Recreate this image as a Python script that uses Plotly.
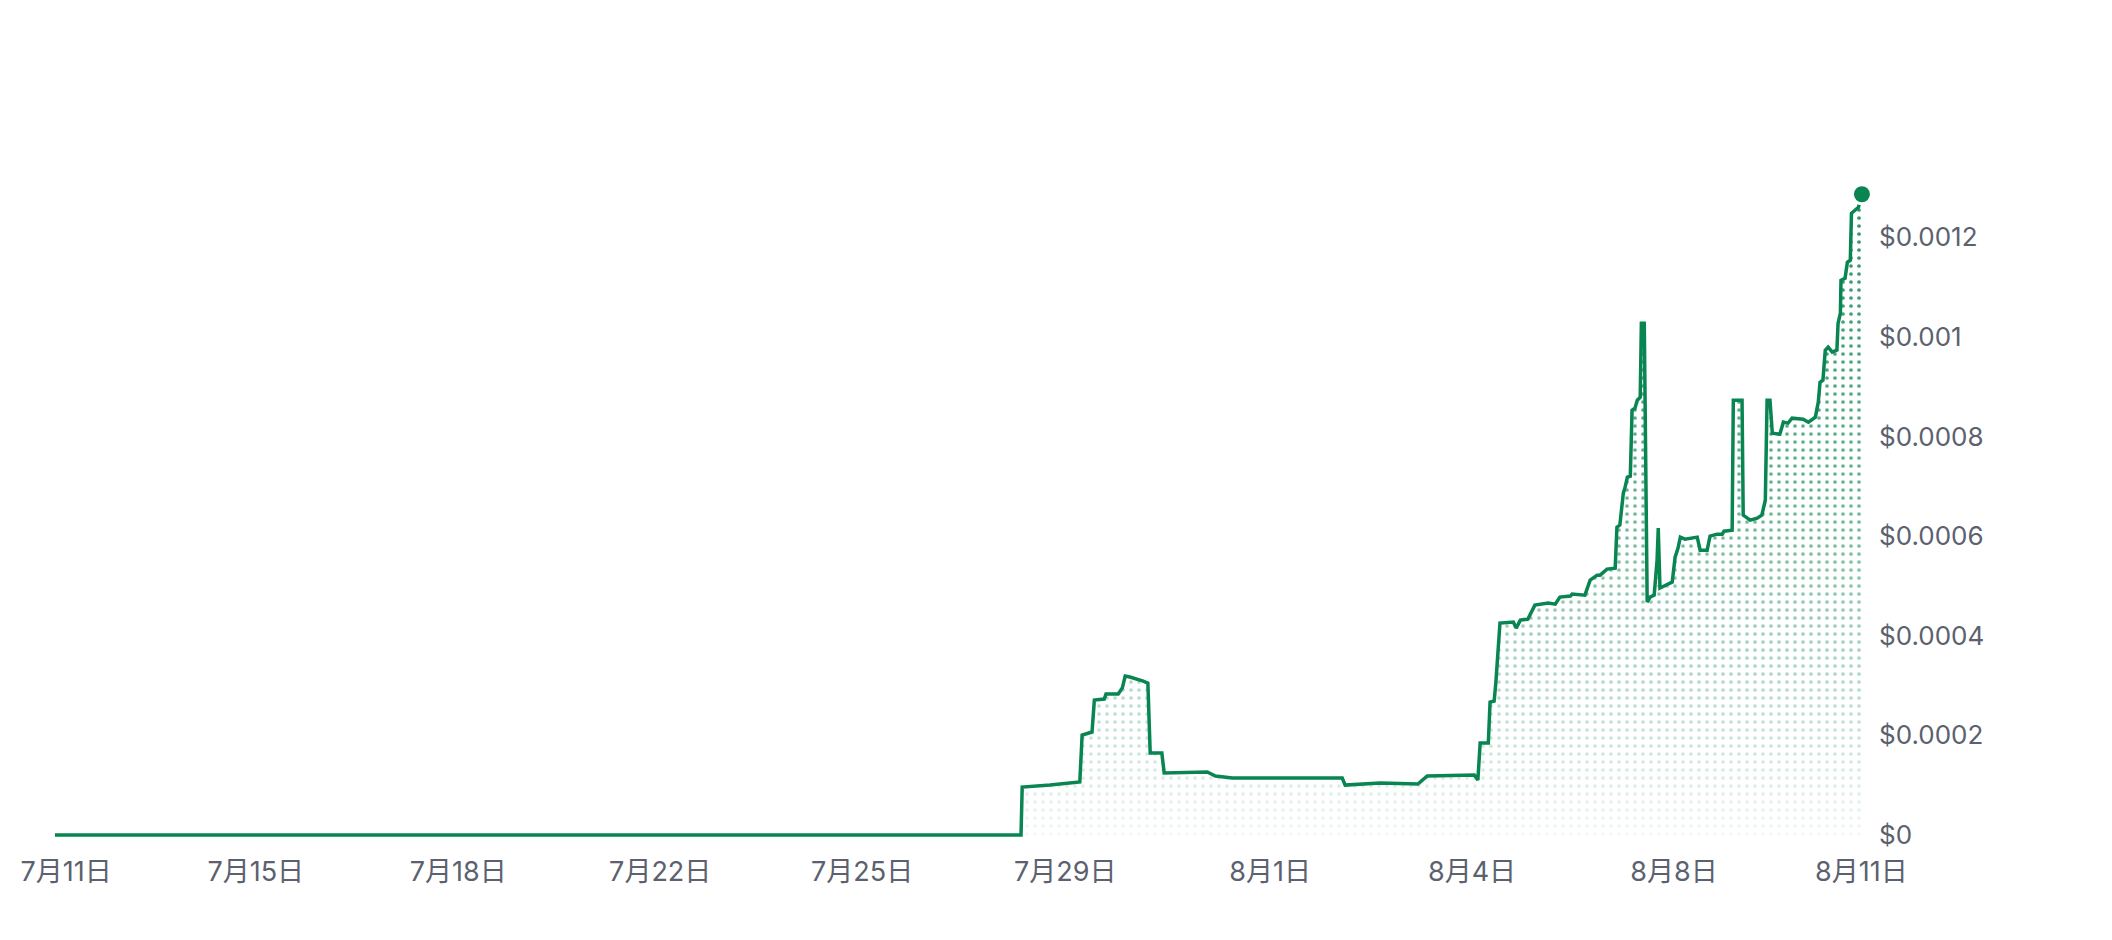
import plotly.graph_objects as go

# days since 7/11 00:00 and price in USD
days = [
    0, 16.60, 16.62, 17.10, 17.61, 17.65, 17.82, 17.86, 18.03, 18.06,
    18.27, 18.34, 18.39, 18.47, 18.70, 18.78, 18.82, 19.02, 19.06, 19.80,
    19.94, 20.23, 22.12, 22.17, 22.77, 23.42, 23.58, 24.39, 24.45, 24.49,
    24.63, 24.66, 24.73, 24.76, 24.83, 25.06, 25.11, 25.18, 25.31, 25.43,
    25.66, 25.78, 25.86, 26.04, 26.07, 26.29, 26.38, 26.50, 26.55, 26.67,
    26.81, 26.84, 26.89, 26.95, 26.98, 27.02, 27.07, 27.10, 27.15, 27.19,
    27.24, 27.26, 27.31, 27.36, 27.41, 27.48, 27.53, 27.55, 27.58, 27.67,
    27.79, 27.84, 27.89, 27.93, 28.01, 28.22, 28.27, 28.39, 28.44, 28.56,
    28.65, 28.68, 28.82, 28.84, 28.99, 29.01, 29.13, 29.25, 29.33, 29.39,
    29.42, 29.47, 29.51, 29.64, 29.70, 29.78, 29.85, 30.04, 30.13, 30.25,
    30.30, 30.33, 30.38, 30.42, 30.47, 30.54, 30.62, 30.64, 30.68, 30.69,
    30.76, 30.80, 30.85, 30.87, 30.93, 30.99, 31.05,
]

price_e4 = [
    0, 0, 0.963, 1.003, 1.064, 2.007, 2.067, 2.709, 2.729, 2.829,
    2.829, 2.950, 3.191, 3.171, 3.090, 3.050, 1.646, 1.646, 1.244, 1.264,
    1.184, 1.144, 1.144, 1.003, 1.043, 1.023, 1.184, 1.204, 1.104, 1.846,
    1.846, 2.669, 2.689, 3.070, 4.254, 4.274, 4.154, 4.314, 4.334, 4.615,
    4.655, 4.635, 4.776, 4.796, 4.836, 4.816, 5.117, 5.217, 5.217, 5.338,
    5.358, 6.181, 6.221, 6.863, 6.983, 7.184, 7.204, 8.529, 8.569, 8.729,
    8.789, 10.274, 10.274, 4.676, 4.776, 4.816, 5.519, 6.161, 4.957, 5.017,
    5.077, 5.579, 5.759, 5.980, 5.940, 5.980, 5.719, 5.719, 6.000, 6.040,
    6.040, 6.100, 6.120, 8.729, 8.729, 6.421, 6.321, 6.361, 6.421, 6.722,
    8.729, 8.729, 8.067, 8.047, 8.288, 8.268, 8.368, 8.348, 8.288, 8.388,
    8.689, 9.090, 9.131, 9.733, 9.793, 9.693, 9.733, 10.274, 10.475, 11.137,
    11.177, 11.498, 11.539, 12.482, 12.542, 12.602, 12.863,
]
prices = [p * 1e-4 for p in price_e4]

tick_days = [0.19, 3.45, 6.93, 10.40, 13.87, 17.36, 20.88, 24.35, 27.82, 31.04]
tick_text = ["7月11日", "7月15日", "7月18日", "7月22日", "7月25日",
             "7月29日", "8月1日", "8月4日", "8月8日", "8月11日"]

y_ticks = [0, 0.0002, 0.0004, 0.0006, 0.0008, 0.001, 0.0012]
y_text = ["$0", "$0.0002", "$0.0004", "$0.0006", "$0.0008", "$0.001", "$0.0012"]

GREEN = "#098551"
GREY = "#5b616e"
FONT = "Inter, Noto Sans CJK JP, sans-serif"

fig = go.Figure()

# dotted fill under the line
fig.add_trace(go.Scatter(
    x=days, y=prices, mode="none", fill="tozeroy",
    fillcolor="rgba(0,0,0,0)",
    fillpattern=dict(shape=".", size=8, solidity=0.17, fgcolor=GREEN,
                     fgopacity=0.85, bgcolor="rgba(0,0,0,0)", fillmode="replace"),
    hoverinfo="skip", showlegend=False,
))

# white fade over the dots toward the bottom
fig.add_trace(go.Scatter(
    x=days, y=prices, mode="none", fill="tozeroy",
    fillgradient=dict(type="vertical", start=0, stop=0.0012,
                      colorscale=[[0, "rgba(255,255,255,0.93)"],
                                  [0.5, "rgba(255,255,255,0.35)"],
                                  [1, "rgba(255,255,255,0)"]]),
    hoverinfo="skip", showlegend=False,
))

fig.add_trace(go.Scatter(
    x=days, y=prices, mode="lines",
    line=dict(color=GREEN, width=3.5),
    showlegend=False,
))

fig.add_trace(go.Scatter(
    x=days[-1:], y=prices[-1:], mode="markers",
    marker=dict(color=GREEN, size=19, line=dict(color="white", width=3)),
    cliponaxis=False, showlegend=False,
))

fig.update_layout(
    width=2096, height=924,
    margin=dict(l=47, r=238, t=30, b=92),
    paper_bgcolor="white", plot_bgcolor="white",
    font=dict(family=FONT, color=GREY),
    xaxis=dict(
        range=[0, 31.12], showgrid=False, zeroline=False, showline=False,
        tickvals=tick_days, ticktext=tick_text, ticks="",
        tickfont=dict(size=27, color=GREY), ticklabelstandoff=13,
    ),
    yaxis=dict(
        range=[-0.00001, 0.0016], side="right", showgrid=False,
        zeroline=False, showline=False, ticks="",
        tickvals=y_ticks, ticktext=y_text,
        tickfont=dict(size=26, color=GREY), ticklabelstandoff=12,
    ),
)

fig.write_html("out.html")
